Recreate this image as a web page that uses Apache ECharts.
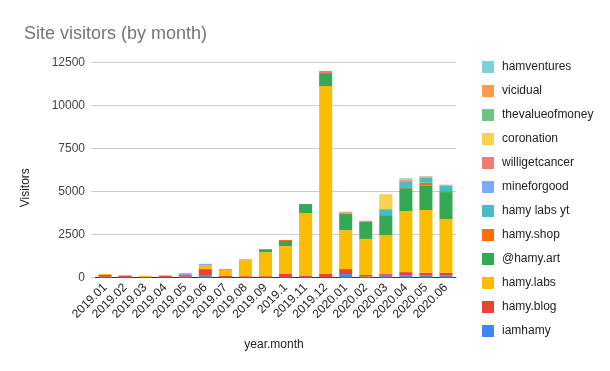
<!DOCTYPE html>
<html>
<head>
<meta charset="utf-8">
<script src="https://cdn.jsdelivr.net/npm/echarts@6/dist/echarts.min.js"></script>
<style>
html,body{margin:0;padding:0;background:#fff;}
#c{width:610px;height:371px;}
</style>
</head>
<body>
<div id="c"></div>
<script>
var months = ['2019.01','2019.02','2019.03','2019.04','2019.05','2019.06','2019.07','2019.08','2019.09','2019.1','2019.11','2019.12','2020.01','2020.02','2020.03','2020.04','2020.05','2020.06'];
var yTicks = [0, 2500, 5000, 7500, 10000, 12500];

var iamhamy        = [50, 40, 30, 35, 50, 110, 30, 30, 30, 40, 40, 20, 210, 60, 110, 115, 115, 115];
var hamyBlog       = [110, 80, 10, 75, 100, 390, 70, 60, 60, 175, 60, 200, 290, 100, 100, 210, 175, 175];
var hamyLabs       = [50, 35, 70, 40, 0, 230, 350, 930, 1390, 1625, 3655, 10900, 2260, 2090, 2260, 3540, 3640, 3110];
var hamyArt        = [0, 0, 0, 0, 0, 0, 0, 0, 175, 290, 520, 700, 970, 1000, 1160, 1330, 1430, 1570];
var hamyShop       = [0, 0, 0, 0, 0, 0, 0, 0, 0, 60, 0, 60, 0, 0, 0, 58, 155, 58];
var hamyLabsYt     = [0, 0, 0, 0, 0, 0, 0, 0, 0, 0, 0, 0, 0, 0, 350, 348, 270, 310];
var mineforgood    = [0, 0, 0, 0, 90, 77, 0, 50, 0, 0, 0, 0, 0, 0, 0, 0, 0, 0];
var willigetcancer = [0, 0, 0, 0, 40, 0, 50, 0, 0, 0, 0, 120, 60, 55, 0, 60, 30, 0];
var coronation     = [0, 0, 0, 0, 0, 0, 0, 0, 0, 0, 0, 0, 0, 0, 870, 40, 0, 0];
var thevalueofmoney= [0, 0, 0, 0, 0, 0, 0, 0, 0, 0, 0, 0, 0, 0, 0, 55, 25, 0];
var vicidual       = [0, 0, 0, 0, 0, 0, 0, 0, 0, 0, 0, 0, 40, 0, 0, 0, 40, 55];
var hamventures    = [0, 0, 0, 0, 0, 0, 0, 0, 0, 0, 0, 0, 0, 0, 0, 20, 15, 0];

var seriesNames = ['iamhamy','hamy.blog','hamy.labs','@hamy.art','hamy.shop','hamy labs yt','mineforgood','willigetcancer','coronation','thevalueofmoney','vicidual','hamventures'];
var seriesData = [iamhamy, hamyBlog, hamyLabs, hamyArt, hamyShop, hamyLabsYt, mineforgood, willigetcancer, coronation, thevalueofmoney, vicidual, hamventures];
var colors = ['#4285F4','#EA4335','#FBBC04','#34A853','#FF6D01','#46BDC6','#7BAAF7','#F07B72','#FCD04F','#71C287','#FF994D','#7ED1D7'];

var FONT = "'Liberation Sans', Arial, sans-serif";
var chart = echarts.init(document.getElementById('c'), null, {renderer: 'canvas'});

var series = seriesNames.map(function (n, i) {
  return {
    name: n,
    type: 'bar',
    stack: 'total',
    barWidth: '65%',
    data: seriesData[i],
    itemStyle: {color: colors[i]}
  };
});

chart.setOption({
  animation: false,
  color: colors,
  textStyle: {fontFamily: FONT},
  title: {
    text: 'Site visitors (by month)',
    left: 19,
    top: 20,
    textStyle: {fontFamily: FONT, fontSize: 18, fontWeight: 'normal', color: '#757575'}
  },
  grid: {left: 95, right: 154, top: 62.3, bottom: 93.3, containLabel: false},
  legend: {
    orient: 'vertical',
    left: 477,
    top: 56,
    itemWidth: 12,
    itemHeight: 12,
    itemGap: 12,
    icon: 'rect',
    data: seriesNames.slice().reverse(),
    textStyle: {fontFamily: FONT, fontSize: 12, color: '#222', padding: [0, 0, 0, 3]}
  },
  xAxis: {
    type: 'category',
    data: months,
    axisLine: {show: true, lineStyle: {color: '#333', width: 1}},
    axisTick: {show: false},
    axisLabel: {rotate: 45, interval: 0, fontSize: 12, color: '#222', fontFamily: FONT, margin: 8}
  },
  yAxis: {
    type: 'value',
    min: yTicks[0],
    max: yTicks[yTicks.length - 1],
    interval: 2500,
    axisLine: {show: false},
    axisTick: {show: true, length: 4, lineStyle: {color: '#ccc'}},
    splitLine: {lineStyle: {color: '#ccc', width: 1}},
    axisLabel: {fontSize: 12, color: '#444', fontFamily: FONT, margin: 10,
      formatter: function (v) { return String(v); }}
  },
  graphic: [
    {
      type: 'text',
      x: 274, y: 345,
      style: {text: 'year.month', fill: '#222', font: '12px ' + FONT, textAlign: 'center', textVerticalAlign: 'middle'}
    },
    {
      type: 'text',
      rotation: Math.PI / 2,
      x: 26, y: 187.7,
      style: {text: 'Visitors', fill: '#222', font: '12px ' + FONT, textAlign: 'center', textVerticalAlign: 'middle'}
    }
  ],
  series: series
});
</script>
</body>
</html>
